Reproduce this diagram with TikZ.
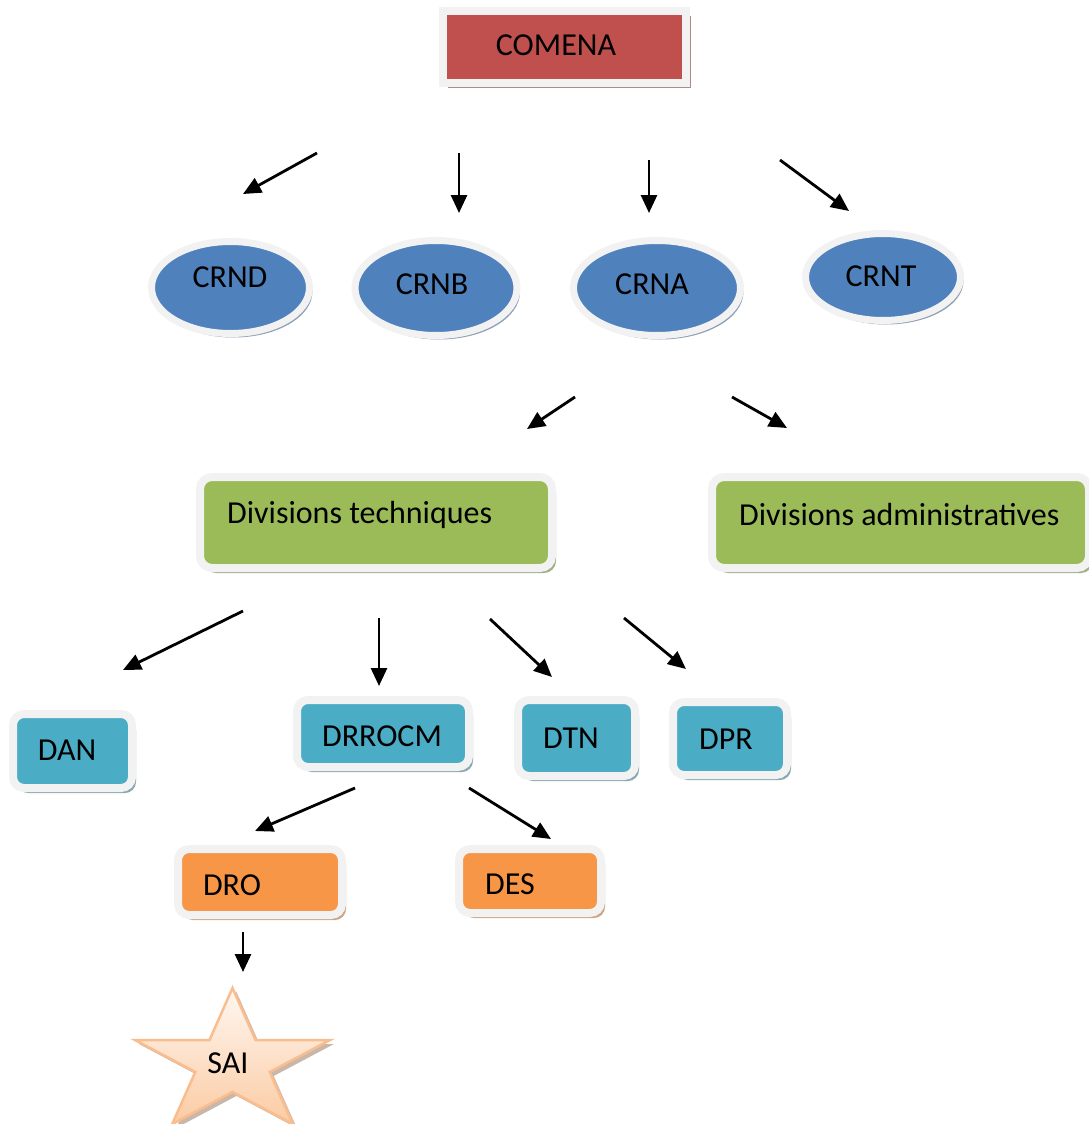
\documentclass[tikz,border=0pt]{standalone}
\usepackage{fontspec}
\setmainfont{Carlito}
\usetikzlibrary{arrows.meta,shapes.geometric,shadows}
\definecolor{redC}{HTML}{C0504D}
\definecolor{blueC}{HTML}{4F81BD}
\definecolor{greenC}{HTML}{9BBB59}
\definecolor{tealC}{HTML}{4BACC6}
\definecolor{orangeC}{HTML}{F79646}
\definecolor{frameC}{HTML}{F2F2F2}
\definecolor{shRed}{HTML}{B08A8A}
\definecolor{shBlue}{HTML}{90A0B6}
\definecolor{shGreen}{HTML}{A2AE8C}
\definecolor{shTeal}{HTML}{88A9B2}
\definecolor{shOrange}{HTML}{CDA486}
\definecolor{starTop}{HTML}{FFF7F1}
\definecolor{starBot}{HTML}{FBCBA3}
\definecolor{starEdge}{HTML}{F9BD8E}
\definecolor{shStar}{HTML}{C9B7A9}
\tikzset{
  frame/.style={draw=frameC, line width=8pt, inner sep=0pt, outer sep=0pt},
  redbox/.style={frame, fill=redC, rectangle,
    drop shadow={shadow xshift=5pt, shadow yshift=-5pt, fill=shRed, opacity=1}},
  oval/.style={frame, line width=7pt, fill=blueC, ellipse,
    drop shadow={shadow xshift=3pt, shadow yshift=-4pt, fill=shBlue, opacity=1}},
  greenbox/.style={frame, fill=greenC, rounded corners=12pt,
    drop shadow={shadow xshift=4pt, shadow yshift=-5pt, fill=shGreen, opacity=1}},
  tealbox/.style={frame, fill=tealC, rounded corners=11pt,
    drop shadow={shadow xshift=4pt, shadow yshift=-5pt, fill=shTeal, opacity=1}},
  orangebox/.style={frame, fill=orangeC, rounded corners=11pt,
    drop shadow={shadow xshift=4pt, shadow yshift=-5pt, fill=shOrange, opacity=1}},
  lbl/.style={inner sep=0pt, font=\fontsize{32}{37}\selectfont},
  arr/.style={line width=2.8pt, -{Triangle[length=18pt,width=16pt]}}
}
\begin{document}
\begin{tikzpicture}[x=1pt,y=-1pt]
\useasboundingbox (0,0) rectangle (1089,1124);
% COMENA
\node[redbox, minimum width=243pt, minimum height=72pt] (comena) at (564.5,47) {};
\node[lbl] (tcomena) at (556,45) {COMENA};
% ellipses
\node[oval, minimum width=158pt, minimum height=92pt] (crnd) at (230.5,287.5) {};
\node[lbl] (tcrnd) at (230,277) {CRND};
\node[oval, minimum width=162pt, minimum height=95pt] (crnb) at (436,288) {};
\node[lbl] (tcrnb) at (432,284) {CRNB};
\node[oval, minimum width=167pt, minimum height=95pt] (crna) at (657,288) {};
\node[lbl] (tcrna) at (652,284) {CRNA};
\node[oval, minimum width=155pt, minimum height=87pt] (crnt) at (883,277) {};
\node[lbl] (tcrnt) at (881,276) {CRNT};
% divisions
\node[greenbox, minimum width=352pt, minimum height=91pt] (dt) at (376,522.5) {};
\node[lbl, anchor=west] (tdt) at (227,515) {Divisions techniques};
\node[greenbox, minimum width=377pt, minimum height=91pt] (da) at (900.5,522.5) {};
\node[lbl, anchor=west] (tda) at (739,515) {Divisions administratives};
% teal boxes
\node[tealbox, minimum width=119pt, minimum height=74pt] (dan) at (72.5,751) {};
\node[lbl] (tdan) at (67,750) {DAN};
\node[tealbox, minimum width=172pt, minimum height=67pt] (drrocm) at (383,733.5) {};
\node[lbl] (tdrrocm) at (382,736) {DRROCM};
\node[tealbox, minimum width=117pt, minimum height=76pt] (dtn) at (576.5,738) {};
\node[lbl] (tdtn) at (571,738) {DTN};
\node[tealbox, minimum width=114pt, minimum height=73pt] (dpr) at (730,738.5) {};
\node[lbl] (tdpr) at (726,739) {DPR};
% orange boxes
\node[orangebox, minimum width=164pt, minimum height=66pt] (dro) at (260,882) {};
\node[lbl] (tdro) at (232,885) {DRO};
\node[orangebox, minimum width=142pt, minimum height=64pt] (des) at (530,881) {};
\node[lbl] (tdes) at (510,884) {DES};
% star
\begin{scope}[shift={(4,4)}]
\fill[shStar] (232.5,988) -- (255.5,1040) -- (330,1040) -- (269.7,1072) -- (292.8,1124)
  -- (232.5,1091.9) -- (172.2,1124) -- (195.3,1072) -- (135,1040) -- (209.5,1040) -- cycle;
\end{scope}
\draw[draw=starEdge, line width=2.5pt, line join=miter, top color=starTop, bottom color=starBot]
  (232.5,988) -- (255.5,1040) -- (330,1040) -- (269.7,1072) -- (292.8,1124)
  -- (232.5,1091.9) -- (172.2,1124) -- (195.3,1072) -- (135,1040) -- (209.5,1040) -- cycle;
\node[lbl] (tsai) at (228,1063) {SAI};
% arrow coordinates
\coordinate (a1s) at (317,153); \coordinate (a1e) at (243,194);
\coordinate (a2s) at (459,153); \coordinate (a2e) at (459,213);
\coordinate (a3s) at (649,160); \coordinate (a3e) at (649,213);
\coordinate (a4s) at (780,160); \coordinate (a4e) at (849,211);
\coordinate (a5s) at (575,397); \coordinate (a5e) at (527,429);
\coordinate (a6s) at (732,397); \coordinate (a6e) at (787,428);
\coordinate (a7s) at (243,611); \coordinate (a7e) at (123,670);
\coordinate (a8s) at (379,618); \coordinate (a8e) at (379,686);
\coordinate (a9s) at (490,619); \coordinate (a9e) at (552,677);
\coordinate (a10s) at (624,618); \coordinate (a10e) at (686,669);
\coordinate (a11s) at (355,788); \coordinate (a11e) at (255,831);
\coordinate (a12s) at (469,788); \coordinate (a12e) at (551,839);
\coordinate (a13s) at (243,932); \coordinate (a13e) at (243,972);
\foreach \i in {1,...,13} { \draw[arr] (a\i s) -- (a\i e); }
\end{tikzpicture}
\end{document}
